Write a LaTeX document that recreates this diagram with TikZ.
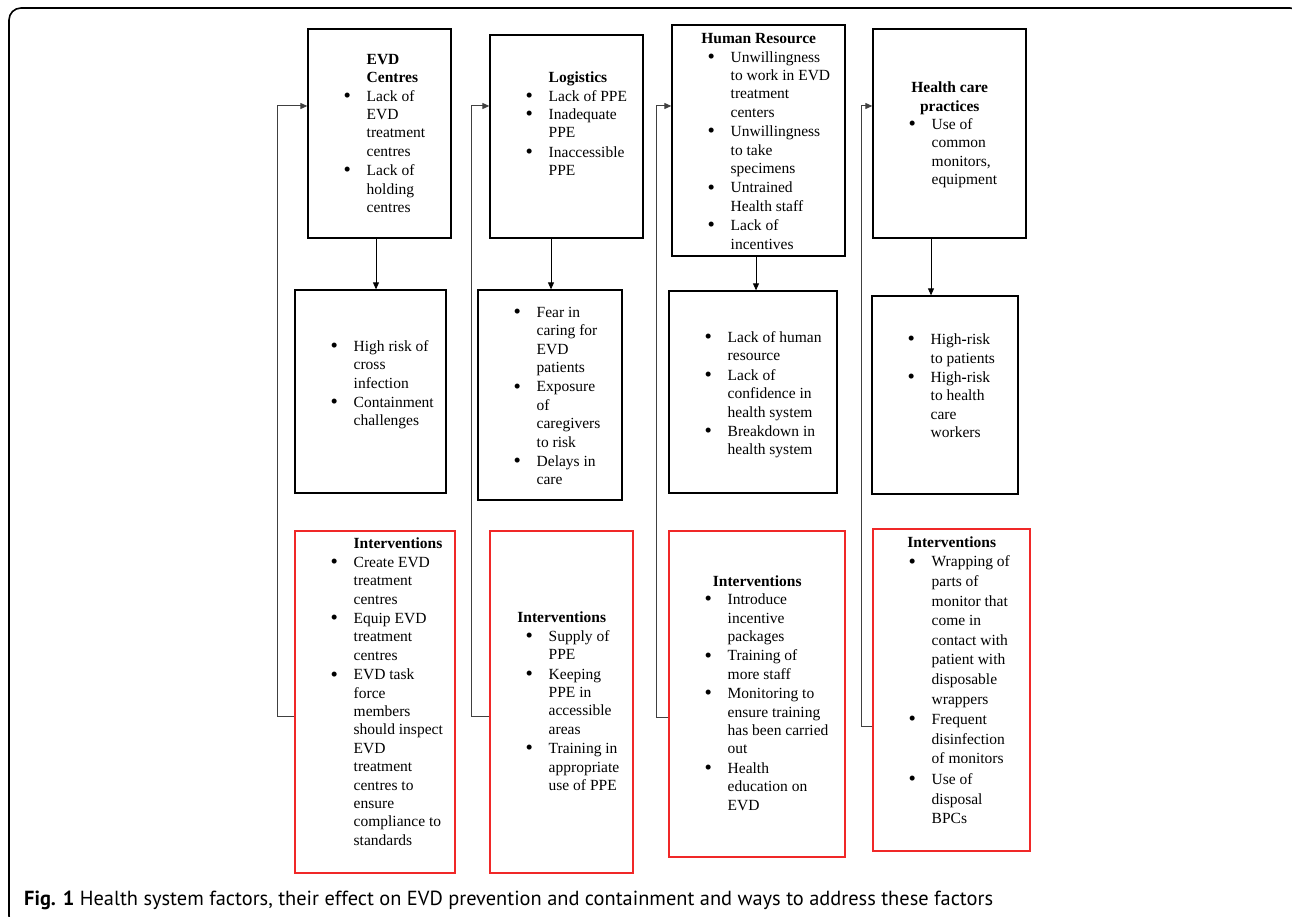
\documentclass[tikz,border=0pt]{standalone}
\usepackage{fontspec}
\setmainfont{Liberation Serif}
\newfontfamily\capfont{PT Sans}
\usetikzlibrary{arrows.meta}
\definecolor{remedyred}{RGB}{240,40,40}
\tikzset{
  factor/.style={draw, line width=1.3pt, inner sep=0pt},        % health system factor
  effect/.style={draw, line width=1.3pt, inner sep=0pt},        % effect on EVD
  remedy/.style={draw=remedyred, line width=1.3pt, inner sep=0pt}, % interventions
  txt/.style={anchor=west, align=left, inner sep=0pt, font=\fontsize{15.5}{18.4}\selectfont},
  downArrow/.style={-{Triangle[length=7pt,width=6pt]}, line width=0.8pt},
  backArrow/.style={-{Triangle[length=7pt,width=6pt]}, line width=1pt, black!75}
}
\newcommand{\bitem}[1]{\makebox[23pt][l]{\smash{\raisebox{-1.3pt}{\scalebox{1.35}{\textbullet}}}}\begin{tabular}[t]{@{}l@{}}#1\end{tabular}}
\newcommand{\lhead}[1]{\hspace*{23pt}\textbf{#1}}
\newcommand{\chead}[2]{\hspace*{-35.5pt}\makebox[#1][c]{\textbf{#2}}}

\begin{document}
\begin{tikzpicture}[x=1pt,y=-1pt]
  \useasboundingbox (0,0) rectangle (1292,917);
  \draw[line width=1.6pt, rounded corners=12pt] (9,8) rectangle (1302,928);
  % boxes, column by column
  \node[factor, minimum width=143pt, minimum height=209pt] (fac1) at (379.5,133.5) {};
  \node[effect, minimum width=151pt, minimum height=203pt] (eff1) at (370.5,391.5) {};
  \node[remedy, minimum width=160pt, minimum height=342pt] (rem1) at (375,702) {};
  \node[factor, minimum width=153pt, minimum height=203pt] (fac2) at (566.5,136.5) {};
  \node[effect, minimum width=144pt, minimum height=210pt] (eff2) at (550,395) {};
  \node[remedy, minimum width=143pt, minimum height=342pt] (rem2) at (561.5,702) {};
  \node[factor, minimum width=173pt, minimum height=231pt] (fac3) at (758.5,140.5) {};
  \node[effect, minimum width=168pt, minimum height=202pt] (eff3) at (753,392) {};
  \node[remedy, minimum width=176pt, minimum height=326pt] (rem3) at (757,694) {};
  \node[factor, minimum width=153pt, minimum height=209pt] (fac4) at (949.5,133.5) {};
  \node[effect, minimum width=146pt, minimum height=198pt] (eff4) at (945,395) {};
  \node[remedy, minimum width=157pt, minimum height=322pt] (rem4) at (951.5,690) {};
  % texts
  \node[txt] (fac1t) at (343.5,136) {\lhead{EVD}\\\lhead{Centres}\\
    \bitem{Lack of\\EVD\\treatment\\centres}\\\bitem{Lack of\\holding\\centres}};
  \node[txt] (eff1t) at (330.5,385) {\bitem{High risk of\\cross\\infection}\\
    \bitem{Containment\\challenges}};
  \node[txt] (rem1t) at (330.5,694.5) {\lhead{Interventions}\\
    \bitem{Create EVD\\treatment\\centres}\\\bitem{Equip EVD\\treatment\\centres}\\
    \bitem{EVD task\\force\\members\\should inspect\\EVD\\treatment\\centres to\\ensure\\compliance to\\standards}};
  \node[txt] (fac2t) at (525.5,126.5) {\lhead{Logistics}\\\bitem{Lack of PPE}\\
    \bitem{Inadequate\\PPE}\\\bitem{Inaccessible\\PPE}};
  \node[txt] (eff2t) at (513.5,397.5) {\bitem{Fear in\\caring for\\EVD\\patients}\\
    \bitem{Exposure\\of\\caregivers\\to risk}\\\bitem{Delays in\\care}};
  \node[txt] (rem2t) at (525.5,704) {\chead{143pt}{Interventions}\\\bitem{Supply of\\PPE}\\
    \bitem{Keeping\\PPE in\\accessible\\areas}\\\bitem{Training in\\appropriate\\use of PPE}};
  \node[txt] (fac3t) at (707.5,144) {\chead{173pt}{Human Resource}\\
    \bitem{Unwillingness\\to work in EVD\\treatment\\centers}\\
    \bitem{Unwillingness\\to take\\specimens}\\\bitem{Untrained\\Health staff}\\
    \bitem{Lack of\\incentives}};
  \node[txt] (eff3t) at (704.5,395) {\bitem{Lack of human\\resource}\\
    \bitem{Lack of\\confidence in\\health system}\\\bitem{Breakdown in\\health system}};
  \node[txt] (rem3t) at (704.5,695.5) {\chead{176pt}{Interventions}\\
    \bitem{Introduce\\incentive\\packages}\\\bitem{Training of\\more staff}\\
    \bitem{Monitoring to\\ensure training\\has been carried\\out}\\
    \bitem{Health\\education on\\EVD}};
  \node[txt] (fac4t) at (908.5,136) {\chead{153pt}{Health care}\\\chead{153pt}{practices}\\
    \bitem{Use of\\common\\monitors,\\equipment}};
  \node[txt] (eff4t) at (907.5,387.5) {\bitem{High\textbf{-}risk\\to patients}\\
    \bitem{High\textbf{-}risk\\to health\\care\\workers}};
  \node[txt, font=\fontsize{15.5}{19.6}\selectfont] (rem4t) at (908.5,683) {\chead{157pt}{Interventions}\\
    \bitem{Wrapping of\\parts of\\monitor that\\come in\\contact with\\patient with\\disposable\\wrappers}\\
    \bitem{Frequent\\disinfection\\of monitors}\\\bitem{Use of\\disposal\\BPCs}};
  % factor -> effect
  \draw[downArrow] (fac1.south -| 376,0) -- (eff1.north -| 376,0);
  \draw[downArrow] (fac2.south -| 551,0) -- (eff2.north -| 551,0);
  \draw[downArrow] (fac3.south -| 756,0) -- (eff3.north -| 756,0);
  \draw[downArrow] (fac4.south -| 931,0) -- (eff4.north -| 931,0);
  % interventions feed back to the factor
  \draw[backArrow] (rem1.west |- 0,716) -- (277,716) |- (fac1.west |- 0,106);
  \draw[backArrow] (rem2.west |- 0,716) -- (471,716) |- (fac2.west |- 0,106);
  \draw[backArrow] (rem3.west |- 0,717) -- (656,717) |- (fac3.west |- 0,106);
  \draw[backArrow] (rem4.west |- 0,726) -- (861,726) |- (fac4.west |- 0,106);
  % caption
  \node[anchor=base west, inner sep=0pt, font=\capfont\fontsize{20.4}{24}\selectfont] (cap) at (24,905)
    {\textbf{Fig. 1} Health system factors, their effect on EVD prevention and containment and ways to address these factors};
\end{tikzpicture}
\end{document}
